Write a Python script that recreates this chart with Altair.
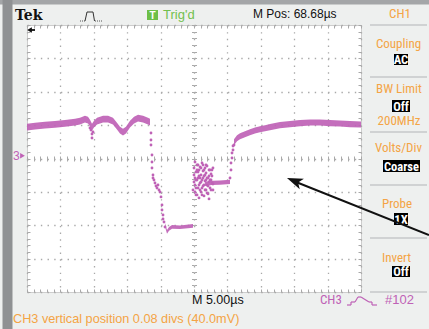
import altair as alt
import pandas as pd

# ---------------- data (time in µs, CH3 amplitude in V; 5 µs/div, 0.5 V/div) ----------------
seg1_t = [0.0, 1.20, 2.69, 4.19, 5.69, 7.19, 7.93, 8.68, 9.13, 9.43, 9.73, 10.03, 10.48, 11.38,
          12.13, 12.87, 13.47, 13.92, 14.37, 14.82, 15.42, 16.02, 16.62, 17.37, 18.11, 18.41]
seg1_v = [0.47, 0.485, 0.50, 0.51, 0.525, 0.545, 0.56, 0.59, 0.575, 0.53, 0.47, 0.515, 0.56, 0.59,
          0.59, 0.56, 0.485, 0.425, 0.395, 0.425, 0.515, 0.575, 0.605, 0.59, 0.56, 0.545]
seg2_t = [20.66, 20.96, 21.26, 21.71, 22.90, 24.85]
seg2_v = [-0.995, -1.10, -1.055, -1.025, -1.03, -1.01]
seg3_t = [26.65, 27.69, 28.89, 30.39]
seg3_v = [-0.38, -0.365, -0.36, -0.35]
seg4_t = [30.99, 31.44, 31.89, 32.63, 33.38, 34.13, 34.88, 35.63, 36.38, 37.87, 39.37, 40.87,
          42.37, 43.86, 45.36, 46.86, 48.35, 50.0]
seg4_v = [0.245, 0.305, 0.335, 0.365, 0.395, 0.42, 0.44, 0.455, 0.47, 0.50, 0.515, 0.53,
          0.54, 0.54, 0.53, 0.525, 0.515, 0.51]
seg_spread = [0.05, 0.028, 0.032, 0.045]   # noise half-width of each trace segment (V)

# isolated samples (fast edges, glitch, noisy burst)
dot_t = [9.58, 9.73, 9.73, 9.88, 9.43,
         18.56, 18.56, 18.56, 18.71, 18.71, 18.71, 18.86, 18.86, 19.01, 19.16, 19.31, 19.46, 19.61,
         19.76, 19.91, 20.06, 20.21, 20.21, 20.36, 20.36, 20.51, 20.66,
         24.85, 25.00, 25.00, 25.15, 25.15, 25.30, 25.30, 25.45, 25.45, 25.60, 25.60, 25.75, 25.75,
         25.90, 25.90, 26.05, 26.05, 26.20, 26.20, 26.35, 26.35, 26.50, 26.50, 26.65, 26.65, 26.80,
         26.80, 26.95, 26.95, 27.10, 27.10, 27.25, 27.40, 27.40, 27.55, 27.69, 27.69, 27.84, 27.25,
         25.30, 25.90, 26.50, 25.60, 26.20, 26.80,
         25.00, 25.15, 25.15, 25.30, 25.45, 25.45, 25.60, 25.75, 25.75, 25.90, 26.05, 26.05, 26.20,
         26.35, 26.35, 26.50, 26.65, 26.65, 26.80, 26.95, 26.95, 27.10, 27.25, 27.25, 27.40, 27.55,
         27.55, 27.69, 27.84, 27.84,
         30.39, 30.54, 30.54, 30.69, 30.69, 30.84, 30.84, 30.99]
dot_v = [0.427, 0.367, 0.307, 0.397, 0.457,
         0.382, 0.277, 0.202, 0.052, -0.052, -0.142, -0.247, -0.292, -0.322, -0.367, -0.412, -0.442,
         -0.397, -0.472, -0.502, -0.576, -0.696, -0.771, -0.846, -0.906, -0.951, -1.026,
         -0.472, -0.247, -0.142, -0.052, -0.397, -0.202, -0.546, -0.097, -0.322, -0.292, -0.442,
         -0.172, -0.591, -0.127, -0.367, -0.247, -0.502, -0.067, -0.322, -0.187, -0.412, -0.262,
         -0.561, -0.142, -0.337, -0.472, -0.217, -0.112, -0.397, -0.292, -0.531, -0.172, -0.322,
         -0.442, -0.232, -0.367, -0.172, -0.472, -0.606,
         -0.322, -0.292, -0.397, -0.202, -0.442, -0.322,
         -0.352, -0.292, -0.502, -0.442, -0.172, -0.546, -0.097, -0.397, -0.262, -0.472, -0.142,
         -0.352, -0.546, -0.292, -0.097, -0.172, -0.472, -0.247, -0.097, -0.292, -0.516, -0.412,
         -0.262, -0.352, -0.172, -0.472, -0.322, -0.262, -0.382, -0.142,
         -0.292, -0.172, -0.067, 0.007, 0.082, 0.127, 0.187, 0.202]

ch3_ground = 0.04          # CH3 vertical position 0.08 divs (40.0 mV)
x_major = [5 * i for i in range(11)]
x_minor = [i for i in range(51)]
y_major = [round(-2 + 0.5 * i, 2) for i in range(9)]
y_minor = [round(-2 + 0.1 * i, 2) for i in range(41)]

# ---------------- tables ----------------
rows = []
for k, (ts, vs) in enumerate([(seg1_t, seg1_v), (seg2_t, seg2_v), (seg3_t, seg3_v), (seg4_t, seg4_v)]):
    for t, v in zip(ts, vs):
        rows.append({"t": t, "v": v, "seg": k, "s": seg_spread[k]})
trace = pd.DataFrame(rows)
dots = pd.DataFrame({"t": dot_t, "v": dot_v})
ONE = pd.DataFrame({"k": [0]})

# ---------------- style ----------------
W, H = 334, 267
OX, OY = 27, 25
PINK = "#bf62b6"
ORANGE = "#f4a445"
GREEN = "#6dbf47"
GRID = "#a9a9a9"
SEP = "#c6c8ca"
NARROW = "Liberation Sans Narrow, Arial Narrow, Roboto Condensed, DejaVu Sans Condensed, Liberation Sans, sans-serif"
REG = "Liberation Sans, Arial, sans-serif"

xs = alt.Scale(domain=[0, 50], nice=False, zero=False)
ys = alt.Scale(domain=[-2, 2], nice=False, zero=False)


def X(px):
    return alt.value(px - OX)


def Y(py):
    return alt.value(py - OY)


def rect(x1, y1, x2, y2, color):
    return alt.Chart(ONE).mark_rect(color=color).encode(x=X(x1), x2=X(x2), y=Y(y1), y2=Y(y2))


def rule(x1, y1, x2, y2, color, w=1.0, dash=None):
    kw = dict(color=color, strokeWidth=w)
    if dash:
        kw["strokeDash"] = dash
    return alt.Chart(ONE).mark_rule(**kw).encode(x=X(x1), x2=X(x2), y=Y(y1), y2=Y(y2))


def text(s, x, y, size, color, font=NARROW, weight="normal", align="left"):
    return alt.Chart(ONE).mark_text(text=s, fontSize=size, color=color, font=font,
                                    fontWeight=weight, align=align, baseline="alphabetic"
                                    ).encode(x=X(x), y=Y(y))


def box(s, x1, y1, x2, y2):
    return [rect(x1, y1, x2, y2, "#000000"),
            text(s, (x1 + x2) / 2, y2 - 1.5, 12.5, "#ffffff", weight="bold", align="center")]


def ax(**kw):
    base = dict(labels=False, domain=False, title=None, grid=False, ticks=False)
    base.update(kw)
    return alt.Axis(**base)


def axis_layer(xaxis, yaxis):
    return alt.Chart(ONE).mark_point(opacity=0).encode(
        x=alt.X("k:Q", scale=xs, axis=xaxis),
        y=alt.Y("k:Q", scale=ys, axis=yaxis))


dash = [1.4, 5.28]
tick = dict(ticks=True, tickColor=GRID, tickWidth=1)
layers = [
    # graticule: dotted division lines
    axis_layer(ax(orient="bottom", values=x_major, grid=True, gridDash=dash, gridColor=GRID, gridWidth=1.3),
               ax(orient="left", values=y_major, grid=True, gridDash=dash, gridColor=GRID, gridWidth=1.3)),
    # inward edge ticks
    axis_layer(ax(orient="top", offset=-H, values=x_minor, tickSize=3, **tick),
               ax(orient="right", offset=-W, values=y_minor, tickSize=3, **tick)),
    axis_layer(ax(orient="bottom", offset=-H, values=x_minor, tickSize=3, **tick),
               ax(orient="left", offset=-W, values=y_minor, tickSize=3, **tick)),
    # centre cross ticks
    axis_layer(ax(orient="top", offset=-H / 2, values=x_minor, tickSize=2.5, **tick),
               ax(orient="right", offset=-W / 2, values=y_minor, tickSize=2.5, **tick)),
    axis_layer(ax(orient="bottom", offset=-H / 2, values=x_minor, tickSize=2.5, **tick),
               ax(orient="left", offset=-W / 2, values=y_minor, tickSize=2.5, **tick)),
]

# trace
layers.append(
    alt.Chart(trace).transform_calculate(lo="datum.v - datum.s", hi="datum.v + datum.s")
    .mark_area(color=PINK, opacity=0.92, interpolate="linear")
    .encode(x=alt.X("t:Q", scale=xs, axis=None), y=alt.Y("lo:Q", scale=ys, axis=None),
            y2="hi:Q", detail="seg:N"))
layers.append(
    alt.Chart(dots).mark_circle(color=PINK, size=8, opacity=1)
    .encode(x=alt.X("t:Q", scale=xs, axis=None), y=alt.Y("v:Q", scale=ys, axis=None)))

# CH3 ground marker
layers.append(alt.Chart(ONE).mark_text(text="3", fontSize=12, color=PINK, font=REG, align="left", baseline="middle")
              .encode(x=X(13), y=alt.Y(datum=ch3_ground, scale=ys, axis=None)))
layers.append(alt.Chart(ONE).mark_point(shape="triangle-right", filled=True, size=30, color=PINK, opacity=1)
              .encode(x=X(22.5), y=alt.Y(datum=ch3_ground, scale=ys, axis=None)))

# frame
layers += [rect(0, 0, 429, 4.5, "#a4a6a8"), rect(2.5, 0, 12.5, 329, "#8f9193")]

# header
layers += [
    text("Tek", 15, 20, 14, "#111111", font="DejaVu Serif", weight="bold"),
    rule(80, 21, 85, 21, "#555555", 1, [1, 1]),
    rule(85, 21, 87, 12, "#333333", 1),
    rule(87, 12, 93, 12, "#333333", 1),
    rule(93, 12, 94.5, 21, "#333333", 1),
    rule(95, 21, 103, 21, "#555555", 1, [1, 1]),
    rect(147, 10, 158, 20, GREEN),
    text("T", 152.5, 18.5, 10, "#ffffff", font=REG, weight="bold", align="center"),
    text("Trig'd", 163, 18.5, 13, "#72c04e", font=REG),
    text("M Pos: 68.68\u00b5s", 253, 18.3, 12, "#111111", font=REG),
    text("CH1", 400, 18.3, 13, ORANGE, align="center"),
    # trigger position arrow
    rule(29, 30, 35, 30, "#111111", 1.8),
    alt.Chart(ONE).mark_point(shape="triangle-left", filled=True, size=30, color="#111111", opacity=1)
    .encode(x=X(29.5), y=Y(30)),
]

# right-hand menu
for yy in [25, 77, 132, 185, 238, 292]:
    layers.append(rule(370, yy, 427, yy, SEP, 1.5))
layers += [
    text("Coupling", 398.5, 48, 13, ORANGE, align="center"),
    *box("AC", 394, 54, 408, 65),
    text("BW Limit", 399, 93, 13, ORANGE, align="center"),
    *box("Off", 392, 100, 410, 112),
    text("200MHz", 399, 125, 13, ORANGE, align="center"),
    text("Volts/Div", 398.5, 152, 13, ORANGE, align="center"),
    *box("Coarse", 383, 160, 420, 172),
    text("Probe", 397, 208, 13, ORANGE, align="center"),
    *box("1X", 394, 213, 408, 225),
    text("Invert", 396.5, 261.5, 13, ORANGE, align="center"),
    *box("Off", 392, 266, 410, 277),
]

# bottom status line
layers += [
    text("M 5.00\u00b5s", 192, 303.5, 12.5, "#111111", font=REG),
    text("CH3", 320, 303.5, 13, PINK),
    rule(347, 305, 351, 305, PINK, 1.2),
    rule(351, 305, 351, 302, PINK, 1.2),
    rule(351, 302, 355, 302, PINK, 1.2),
    rule(355, 302, 358, 297, PINK, 1.2),
    rule(358, 297, 361, 297, PINK, 1.2),
    rule(361, 297, 369, 302, PINK, 1.2),
    rule(369, 302, 372, 302, PINK, 1.2),
    rule(372, 302, 372, 305, PINK, 1.2),
    rule(372, 305, 377, 305, PINK, 1.2),
    text("#102", 385, 303.5, 13, PINK, font=REG),
    text("CH3 vertical position 0.08 divs (40.0mV)", 13, 322.5, 12.7, ORANGE, font=REG),
]

# annotation arrow
layers += [
    rule(429, 235, 296, 182, "#111111", 2),
    alt.Chart(ONE).mark_point(shape="M-1,0L1,-0.7L0.5,0L1,0.7Z", filled=True, size=256, angle=22,
                              color="#111111", opacity=1).encode(x=X(294.4), y=Y(181)),
]

chart = (
    alt.layer(*layers)
    .resolve_axis(x="independent", y="independent")
    .properties(width=W, height=H,
                padding={"left": OX, "top": OY, "right": 429 - OX - W, "bottom": 329 - OY - H},
                autosize=alt.AutoSizeParams(type="none"),
                background="#eef0ef")
    .configure_view(fill="#ffffff", stroke="#cdcdcd", strokeWidth=1)
)

chart.save("out.html", embed_options={"renderer": "svg", "actions": False})
